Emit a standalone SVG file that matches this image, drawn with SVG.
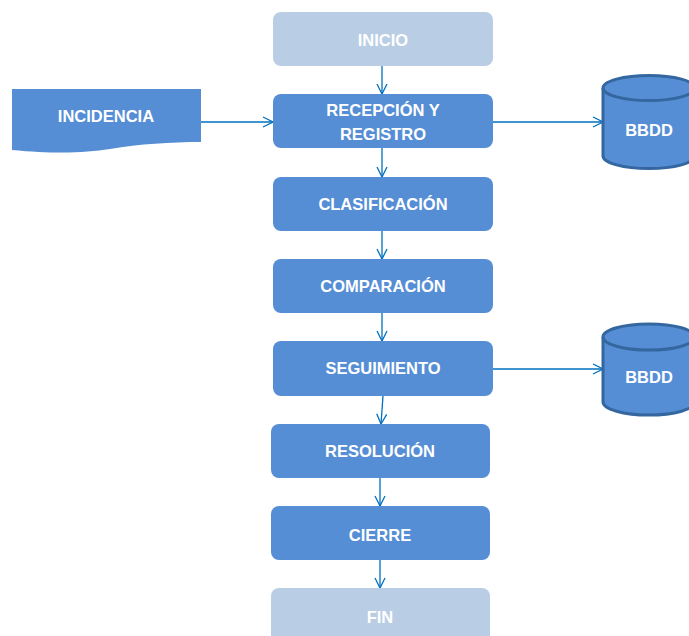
<svg xmlns="http://www.w3.org/2000/svg" width="689" height="636" viewBox="0 0 689 636">
<defs>
<style>
.box{fill:#558ED5;}
.light{fill:#B9CDE5;}
.cyl{fill:#558ED5;stroke:#34679F;stroke-width:3;}
.lbl{font-family:"Liberation Sans",Arial,sans-serif;font-weight:bold;font-size:16.5px;fill:#FFFFFF;text-anchor:middle;}
.con{fill:none;stroke:#0070C0;stroke-width:1.3;marker-end:url(#arr);}
</style>
<marker id="arr" viewBox="0 0 12 12" refX="11" refY="6" markerWidth="12" markerHeight="12" markerUnits="userSpaceOnUse" orient="auto">
<path d="M1,1 L11,6 L1,11" fill="none" stroke="#0070C0" stroke-width="1.3"/>
</marker>
</defs>
<rect width="689" height="636" fill="#FFFFFF"/>
<g id="connectors">
<line class="con" x1="382" y1="66" x2="382" y2="94"/>
<line class="con" x1="382" y1="148" x2="382" y2="177"/>
<line class="con" x1="382" y1="231" x2="382" y2="259"/>
<line class="con" x1="382" y1="313" x2="382" y2="341"/>
<line class="con" x1="383" y1="396" x2="381" y2="424"/>
<line class="con" x1="380" y1="478" x2="380" y2="506"/>
<line class="con" x1="380" y1="560" x2="380" y2="588"/>
<line class="con" x1="201" y1="122" x2="273" y2="122"/>
<line class="con" x1="493" y1="122" x2="603" y2="122"/>
<line class="con" x1="493" y1="369" x2="603" y2="369"/>
</g>
<g id="inicio">
<rect class="light" x="273" y="12" width="220" height="54" rx="8"/>
<text class="lbl" x="383" y="46">INICIO</text>
</g>
<g id="incidencia">
<path class="box" d="M12,89 L201,89 L201,142 C170,142 140,144 110,149 C85,153 55,154 12,150 Z"/>
<text class="lbl" x="106" y="122">INCIDENCIA</text>
</g>
<g id="recepcion">
<rect class="box" x="273" y="94" width="220" height="54" rx="8"/>
<text class="lbl" x="383" y="116">RECEPCIÓN Y</text>
<text class="lbl" x="383" y="140">REGISTRO</text>
</g>
<g id="bbdd1">
<path class="cyl" d="M603,88 L603,156 A46,12.5 0 0 0 695,156 L695,88 A46,12.5 0 0 0 603,88 Z"/>
<path d="M603,88 A46,12.5 0 0 0 695,88" fill="none" stroke="#34679F" stroke-width="3"/>
<text class="lbl" x="649" y="136">BBDD</text>
</g>
<g id="clasificacion">
<rect class="box" x="273" y="177" width="220" height="54" rx="8"/>
<text class="lbl" x="383" y="210">CLASIFICACIÓN</text>
</g>
<g id="comparacion">
<rect class="box" x="273" y="259" width="220" height="54" rx="8"/>
<text class="lbl" x="383" y="292">COMPARACIÓN</text>
</g>
<g id="seguimiento">
<rect class="box" x="273" y="341" width="220" height="55" rx="8"/>
<text class="lbl" x="383" y="374">SEGUIMIENTO</text>
</g>
<g id="bbdd2">
<path class="cyl" d="M603,337 L603,402 A46,13 0 0 0 695,402 L695,337 A46,13 0 0 0 603,337 Z"/>
<path d="M603,337 A46,13 0 0 0 695,337" fill="none" stroke="#34679F" stroke-width="3"/>
<text class="lbl" x="649" y="383">BBDD</text>
</g>
<g id="resolucion">
<rect class="box" x="271" y="424" width="219" height="54" rx="8"/>
<text class="lbl" x="380" y="457">RESOLUCIÓN</text>
</g>
<g id="cierre">
<rect class="box" x="271" y="506" width="219" height="54" rx="8"/>
<text class="lbl" x="380" y="541">CIERRE</text>
</g>
<g id="fin">
<rect class="light" x="271" y="588" width="219" height="60" rx="8"/>
<text class="lbl" x="380" y="623">FIN</text>
</g>
</svg>
